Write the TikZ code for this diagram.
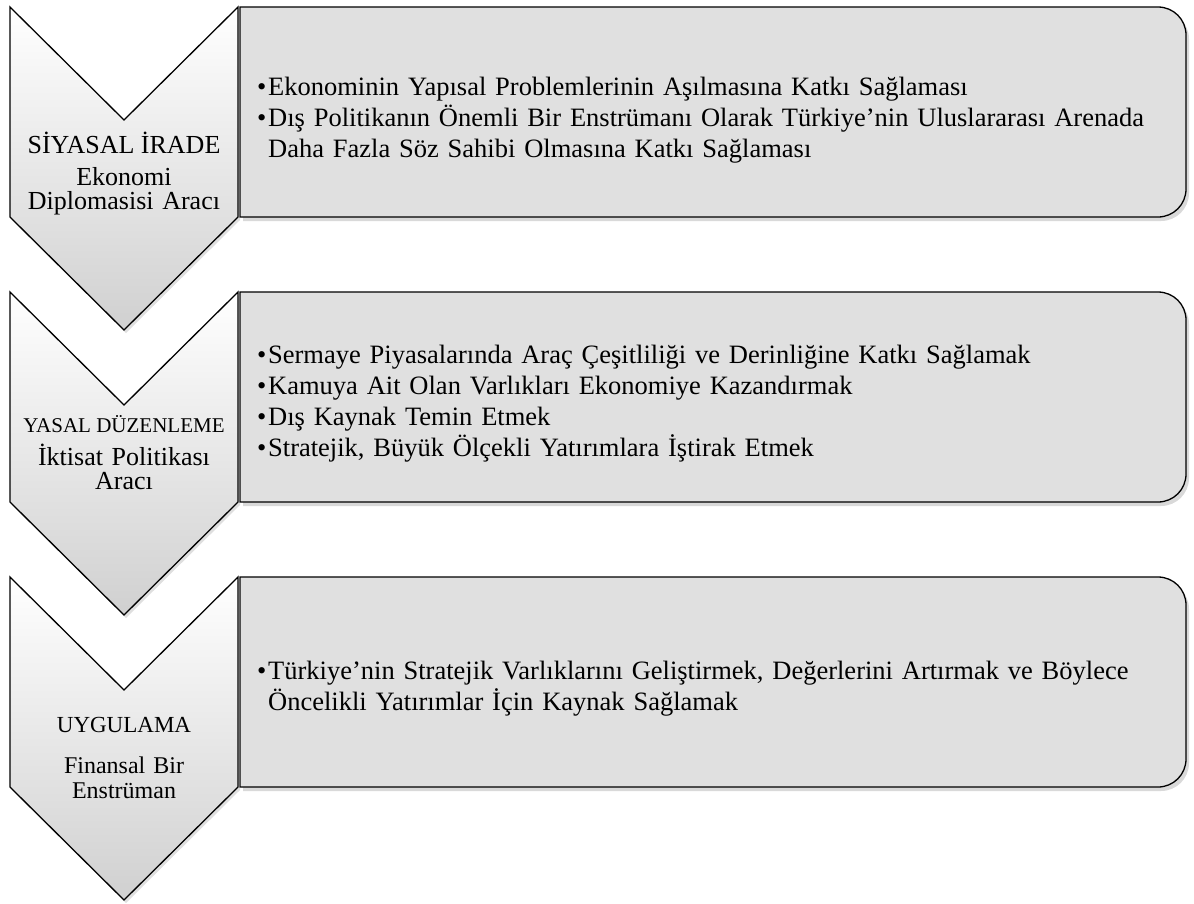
\documentclass[tikz,border=0pt]{standalone}
\usepackage{fontspec}
\setmainfont{Liberation Serif}
\usetikzlibrary{shadows}
\definecolor{panelgray}{RGB}{224,224,224}
\definecolor{chevgray}{RGB}{208,208,208}
\newcommand{\pitem}{\par\noindent\hspace*{-11pt}\makebox[11pt][l]{\textbullet}}
\tikzset{
	every picture/.style={x=1pt,y=-1pt},
	panel/.style={draw=black,line width=1.3pt,fill=panelgray,
		drop shadow={opacity=0.3,shadow xshift=3pt,shadow yshift=-4pt}},
	chevron/.style={draw=black,line width=1.3pt,top color=white,bottom color=chevgray,
		drop shadow={opacity=0.25,shadow xshift=2pt,shadow yshift=-3pt}},
	chevhead/.style={anchor=base,inner sep=0pt,align=center},
	chevsub/.style={anchor=base,inner sep=0pt,text width=226pt,align=center},
	bullets/.style={anchor=west,inner sep=0pt,text width=925pt,align=left,
		font=\fontsize{26.5}{31}\selectfont},
}

\begin{document}
\begin{tikzpicture}
	\useasboundingbox (0,0) rectangle (1194,903);

	% first panel....................
	\draw [panel] (240,7) -- (1158,7) .. controls (1173.5,7) and (1186,19.5) .. (1186,35)
		-- (1186,189) .. controls (1186,204.5) and (1173.5,217) .. (1158,217) -- (240,217) -- cycle;
	\draw [chevron] (10,7) -- (124,120) -- (238,7) -- (238,217) -- (124,330) -- (10,217) -- cycle;

	% second panel...................
	\draw [panel] (240,292) -- (1158,292) .. controls (1173.5,292) and (1186,304.5) .. (1186,320)
		-- (1186,474) .. controls (1186,489.5) and (1173.5,502) .. (1158,502) -- (240,502) -- cycle;
	\draw [chevron] (10,292) -- (124,405) -- (238,292) -- (238,502) -- (124,615) -- (10,502) -- cycle;

	% third panel....................
	\draw [panel] (240,577) -- (1158,577) .. controls (1173.5,577) and (1186,589.5) .. (1186,605)
		-- (1186,759) .. controls (1186,774.5) and (1173.5,787) .. (1158,787) -- (240,787) -- cycle;
	\draw [chevron] (10,577) -- (124,690) -- (238,577) -- (238,787) -- (124,900) -- (10,787) -- cycle;

	% chevron labels.................
	\node [chevhead,font=\fontsize{26}{28}\selectfont] (siyasal) at (124,153) {SİYASAL İRADE};
	\node [chevsub,font=\fontsize{26}{24}\selectfont] (ekonomi) at (124,185) {Ekonomi\\Diplomasisi Aracı};
	\node [chevhead,font=\fontsize{21}{24}\selectfont] (yasal) at (124,432) {YASAL DÜZENLEME};
	\node [chevsub,font=\fontsize{26}{24}\selectfont] (iktisat) at (124,465) {İktisat Politikası\\Aracı};
	\node [chevhead,font=\fontsize{23}{26}\selectfont] (uygulama) at (124,732) {UYGULAMA};
	\node [chevsub,font=\fontsize{24}{25}\selectfont] (finansal) at (124,773) {Finansal Bir\\Enstrüman};

	% panel texts....................
	\node [bullets] (siyasallist) at (257,114) {\leftskip=11pt
		\pitem Ekonominin Yapısal Problemlerinin Aşılmasına Katkı Sağlaması
		\pitem Dış Politikanın Önemli Bir Enstrümanı Olarak Türkiye’nin Uluslararası Arenada\newline Daha Fazla Söz Sahibi Olmasına Katkı Sağlaması\par};
	\node [bullets] (yasallist) at (257,397) {\leftskip=11pt
		\pitem Sermaye Piyasalarında Araç Çeşitliliği ve Derinliğine Katkı Sağlamak
		\pitem Kamuya Ait Olan Varlıkları Ekonomiye Kazandırmak
		\pitem Dış Kaynak Temin Etmek
		\pitem Stratejik, Büyük Ölçekli Yatırımlara İştirak Etmek\par};
	\node [bullets] (uygulamalist) at (257,682) {\leftskip=11pt
		\pitem Türkiye’nin Stratejik Varlıklarını Geliştirmek, Değerlerini Artırmak ve Böylece\newline Öncelikli Yatırımlar İçin Kaynak Sağlamak\par};
\end{tikzpicture}
\end{document}
